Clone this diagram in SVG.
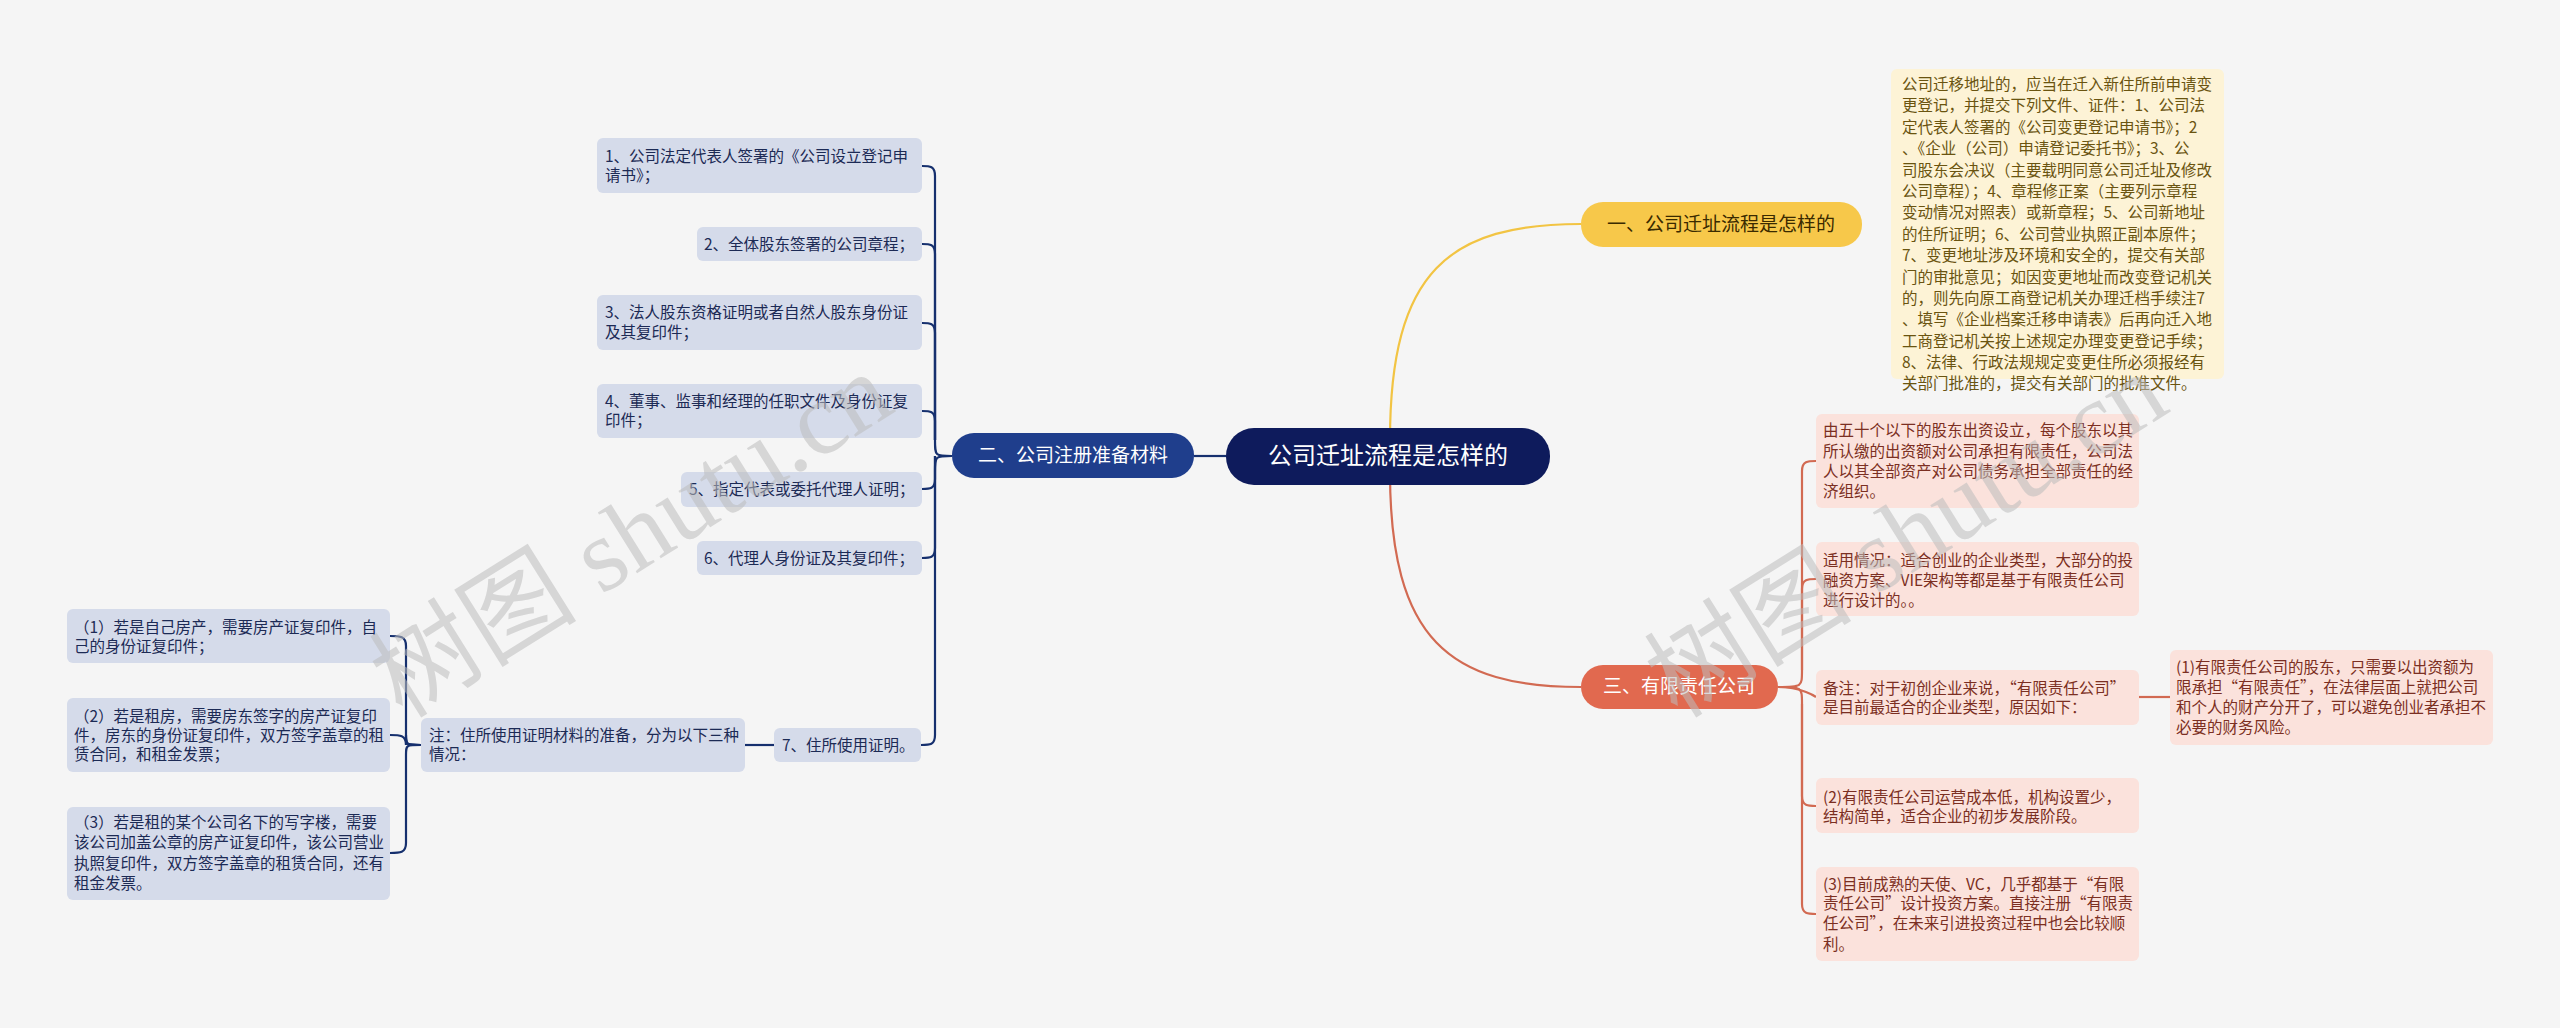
<svg xmlns="http://www.w3.org/2000/svg" width="2560" height="1028" viewBox="0 0 2560 1028">
<style>
text{font-family:"Microsoft YaHei","Noto Sans CJK SC",sans-serif;}
.t{font-size:15.5px;}
.nb{fill:#d5dbea;}
.nt{fill:#1c2a55;}
.rb{fill:#fbe2dc;}
.rt{fill:#7b2f22;}
.nc{fill:none;stroke:#16306e;stroke-width:2.2;}
.rc{fill:none;stroke:#d26a52;stroke-width:2.2;}
.wm{font-family:"Liberation Serif","Noto Sans CJK SC",serif;font-size:104px;fill:#bdbdbd;opacity:0.55;}
</style>
<rect width="2560" height="1028" fill="#f5f5f5"/>
<g id="connectors">
<path class="nc" d="M1226,456 L1194,456"/>
<path d="M1390,440 C1390,270 1450,224 1581,224" fill="none" stroke="#f2c443" stroke-width="2.2"/>
<path class="rc" d="M1390,472 C1390,640 1450,687 1581,687"/>
<path class="nc" d="M952,456 C935,456 935,456 935,440 L935,176 C935,166 930,166 922,166"/>
<path class="nc" d="M935,440 L935,254 C935,244 930,244 922,244"/>
<path class="nc" d="M935,440 L935,333 C935,323 930,323 922,323"/>
<path class="nc" d="M935,440 L935,421 C935,411 930,411 922,411"/>
<path class="nc" d="M935,456 L935,479 C935,489 930,489 922,489"/>
<path class="nc" d="M935,456 L935,548 C935,558 930,558 922,558"/>
<path class="nc" d="M952,456 C935,456 935,456 935,472 L935,735 C935,745 930,745 921,745"/>
<path class="nc" d="M774,745 L745,745"/>
<path class="nc" d="M421,745 C406,745 406,745 406,735 L406,646 C406,636 400,636 390,636"/>
<path class="nc" d="M421,745 C406,745 406,745 406,735 L406,745 C406,735 400,735 390,735"/>
<path class="nc" d="M421,745 C406,745 406,745 406,755 L406,843 C406,853 400,853 390,853"/>
<path class="rc" d="M1778,687 C1802,687 1802,687 1802,670 L1802,471 C1802,461 1808,461 1816,461"/>
<path class="rc" d="M1802,670 L1802,589 C1802,579 1808,579 1816,579"/>
<path class="rc" d="M1778,687 C1802,687 1816,697 1816,697"/>
<path class="rc" d="M1778,687 C1802,687 1802,687 1802,704 L1802,796 C1802,806 1808,806 1816,806"/>
<path class="rc" d="M1802,704 L1802,904 C1802,914 1808,914 1816,914"/>
<path class="rc" d="M2139,697 L2170,697"/>
</g>
<g id="root">
<rect x="1226" y="428" width="324" height="57" rx="28" fill="#0e1b5c"/>
<text x="1388" y="464" text-anchor="middle" font-size="24" fill="#fff">公司迁址流程是怎样的</text>
</g>
<g id="b1">
<rect x="1581" y="202" width="281" height="45" rx="22" fill="#f7c84a"/>
<text x="1721" y="231" text-anchor="middle" font-size="19" fill="#3a2a00">一、公司迁址流程是怎样的</text>
</g>
<g id="b1n">
<rect x="1891" y="69" width="333" height="310" rx="6" fill="#fdf3d6"/>
<g class="t" fill="#6a5410">
<text x="1902" y="90">公司迁移地址的，应当在迁入新住所前申请变</text>
<text x="1902" y="111">更登记，并提交下列文件、证件：1、公司法</text>
<text x="1902" y="133">定代表人签署的《公司变更登记申请书》；2</text>
<text x="1902" y="154">、《企业（公司）申请登记委托书》；3、公</text>
<text x="1902" y="176">司股东会决议（主要载明同意公司迁址及修改</text>
<text x="1902" y="197">公司章程）；4、章程修正案（主要列示章程</text>
<text x="1902" y="218">变动情况对照表）或新章程；5、公司新地址</text>
<text x="1902" y="240">的住所证明；6、公司营业执照正副本原件；</text>
<text x="1902" y="261">7、变更地址涉及环境和安全的，提交有关部</text>
<text x="1902" y="283">门的审批意见；如因变更地址而改变登记机关</text>
<text x="1902" y="304">的，则先向原工商登记机关办理迁档手续注7</text>
<text x="1902" y="325">、填写《企业档案迁移申请表》后再向迁入地</text>
<text x="1902" y="347">工商登记机关按上述规定办理变更登记手续；</text>
<text x="1902" y="368">8、法律、行政法规规定变更住所必须报经有</text>
<text x="1902" y="389">关部门批准的，提交有关部门的批准文件。</text>
</g>
</g>
<g id="b3">
<rect x="1581" y="665" width="197" height="44" rx="22" fill="#e1694f"/>
<text x="1679" y="693" text-anchor="middle" font-size="19" fill="#fff">三、有限责任公司</text>
</g>
<g id="r1"><rect class="rb" x="1816" y="414" width="323" height="94" rx="6"/>
<g class="t rt"><text x="1823" y="436">由五十个以下的股东出资设立，每个股东以其</text><text x="1823" y="457">所认缴的出资额对公司承担有限责任，公司法</text><text x="1823" y="477">人以其全部资产对公司债务承担全部责任的经</text><text x="1823" y="497">济组织。</text></g></g>
<g id="r2"><rect class="rb" x="1816" y="542" width="323" height="74" rx="6"/>
<g class="t rt"><text x="1823" y="566">适用情况：适合创业的企业类型，大部分的投</text><text x="1823" y="586">融资方案、VIE架构等都是基于有限责任公司</text><text x="1823" y="606">进行设计的。。</text></g></g>
<g id="r3"><rect class="rb" x="1816" y="670" width="323" height="55" rx="6"/>
<g class="t rt"><text x="1823" y="694">备注：对于初创企业来说，“有限责任公司”</text><text x="1823" y="713">是目前最适合的企业类型，原因如下：</text></g></g>
<g id="r3c"><rect class="rb" x="2170" y="650" width="323" height="95" rx="6"/>
<g class="t rt"><text x="2176" y="673">(1)有限责任公司的股东，只需要以出资额为</text><text x="2176" y="693">限承担“有限责任”，在法律层面上就把公司</text><text x="2176" y="713">和个人的财产分开了，可以避免创业者承担不</text><text x="2176" y="733">必要的财务风险。</text></g></g>
<g id="r4"><rect class="rb" x="1816" y="778" width="323" height="55" rx="6"/>
<g class="t rt"><text x="1823" y="803">(2)有限责任公司运营成本低，机构设置少，</text><text x="1823" y="822">结构简单，适合企业的初步发展阶段。</text></g></g>
<g id="r5"><rect class="rb" x="1816" y="867" width="323" height="94" rx="6"/>
<g class="t rt"><text x="1823" y="890">(3)目前成熟的天使、VC，几乎都基于“有限</text><text x="1823" y="909">责任公司”设计投资方案。直接注册“有限责</text><text x="1823" y="929">任公司”，在未来引进投资过程中也会比较顺</text><text x="1823" y="950">利。</text></g></g>
<g id="b2">
<rect x="952" y="433" width="242" height="45" rx="22" fill="#1f3e8c"/>
<text x="1073" y="462" text-anchor="middle" font-size="19" fill="#fff">二、公司注册准备材料</text>
</g>
<g id="n1"><rect class="nb" x="597" y="138" width="325" height="55" rx="6"/>
<g class="t nt"><text x="605" y="162">1、公司法定代表人签署的《公司设立登记申</text><text x="605" y="181">请书》；</text></g></g>
<g id="n2"><rect class="nb" x="697" y="227" width="225" height="34" rx="6"/>
<g class="t nt"><text x="704" y="250">2、全体股东签署的公司章程；</text></g></g>
<g id="n3"><rect class="nb" x="597" y="295" width="325" height="55" rx="6"/>
<g class="t nt"><text x="605" y="318">3、法人股东资格证明或者自然人股东身份证</text><text x="605" y="338">及其复印件；</text></g></g>
<g id="n4"><rect class="nb" x="597" y="384" width="325" height="54" rx="6"/>
<g class="t nt"><text x="605" y="407">4、董事、监事和经理的任职文件及身份证复</text><text x="605" y="426">印件；</text></g></g>
<g id="n5"><rect class="nb" x="681" y="472" width="241" height="35" rx="6"/>
<g class="t nt"><text x="689" y="495">5、指定代表或委托代理人证明；</text></g></g>
<g id="n6"><rect class="nb" x="697" y="541" width="225" height="34" rx="6"/>
<g class="t nt"><text x="704" y="564">6、代理人身份证及其复印件；</text></g></g>
<g id="n7"><rect class="nb" x="774" y="728" width="147" height="34" rx="6"/>
<g class="t nt"><text x="782" y="751">7、住所使用证明。</text></g></g>
<g id="n7a"><rect class="nb" x="421" y="718" width="324" height="54" rx="6"/>
<g class="t nt"><text x="429" y="741">注：住所使用证明材料的准备，分为以下三种</text><text x="429" y="760">情况：</text></g></g>
<g id="l1"><rect class="nb" x="67" y="609" width="323" height="54" rx="6"/>
<g class="t nt"><text x="74" y="633">（1）若是自己房产，需要房产证复印件，自</text><text x="74" y="652">己的身份证复印件；</text></g></g>
<g id="l2"><rect class="nb" x="67" y="698" width="323" height="74" rx="6"/>
<g class="t nt"><text x="74" y="722">（2）若是租房，需要房东签字的房产证复印</text><text x="74" y="741">件，房东的身份证复印件，双方签字盖章的租</text><text x="74" y="760">赁合同，和租金发票；</text></g></g>
<g id="l3"><rect class="nb" x="67" y="807" width="323" height="93" rx="6"/>
<g class="t nt"><text x="74" y="828">（3）若是租的某个公司名下的写字楼，需要</text><text x="74" y="848">该公司加盖公章的房产证复印件，该公司营业</text><text x="74" y="869">执照复印件，双方签字盖章的租赁合同，还有</text><text x="74" y="889">租金发票。</text></g></g>
<g id="watermark">
<text class="wm" transform="translate(650,565) rotate(-32)" text-anchor="middle">树图 shutu.cn</text>
<text class="wm" transform="translate(1925,565) rotate(-32)" text-anchor="middle">树图 shutu.cn</text>
</g>
</svg>
